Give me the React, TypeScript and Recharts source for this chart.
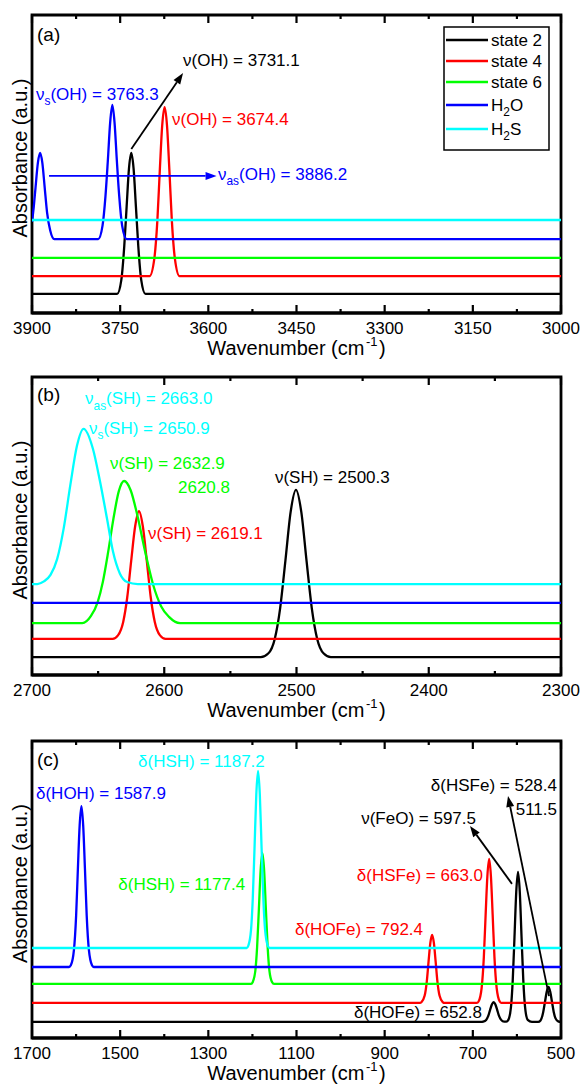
import React from "react";
import { LineChart, Line, XAxis, YAxis, ReferenceDot, ReferenceLine, ReferenceArea } from "recharts";

const FONT = "Arial, 'Liberation Sans', sans-serif";

// legend / series order
const seriesNames = ["state 2", "state 4", "state 6", "H_{2}O", "H_{2}S"];
const seriesColors = ["#000000", "#ff0000", "#00ff00", "#0000ff", "#00ffff"];

// ---- panel (a): 3900-3000 cm-1, [wavenumber, absorbance]
const aTicks = [3900, 3750, 3600, 3450, 3300, 3150, 3000];
const aMinor = [3825, 3675, 3525, 3375, 3225, 3075];
const aState2 = [[3900, 6.4], [3755.1, 6.4], [3748, 11.1], [3743, 22.5], [3739, 35.7], [3735, 48.5], [3731.1, 53.7], [3727.2, 48.5], [3723.2, 35.7], [3719.2, 22.5], [3714.2, 11.1], [3707, 6.4], [3000, 6.4]];
const aState4 = [[3900, 12.4], [3700, 12.4], [3692, 18.1], [3686.7, 31.1], [3682.5, 48.1], [3678.5, 62.9], [3674.4, 69.1], [3670.3, 62.9], [3666.3, 48.1], [3662.1, 31.1], [3656.8, 18.1], [3649, 12.4], [3000, 12.4]];
const aState6 = [[3900, 18.5], [3000, 18.5]];
const aH2O = [[3900, 30.6], [3897, 35.6], [3894, 42.1], [3890, 50.4], [3886.2, 53.7], [3882.4, 50.4], [3878.4, 42.1], [3874.4, 33.8], [3869, 27.7], [3862, 24.8], [3787.3, 24.8], [3780, 29.3], [3775, 39.2], [3771, 51], [3767, 64], [3763.3, 69.8], [3759.6, 64], [3755.6, 51], [3751.6, 39.2], [3746.6, 29.3], [3739, 24.8], [3000, 24.8]];
const aH2S = [[3900, 31.2], [3000, 31.2]];

// ---- panel (b): 2700-2300 cm-1
const bTicks = [2700, 2600, 2500, 2400, 2300];
const bMinor = [2650, 2550, 2450, 2350];
const bState2 = [[2700, 6], [2527, 6], [2521.4, 7.2], [2516.4, 12.2], [2512.4, 22.3], [2508.4, 38.3], [2504.4, 54.8], [2500.4, 62.1], [2496.4, 54.8], [2492.4, 38.3], [2488.4, 22.3], [2484.4, 12.2], [2479.4, 7.2], [2474, 6], [2300, 6]];
const bState4 = [[2700, 12.1], [2639, 12.1], [2635, 13.3], [2631, 17.9], [2628, 26], [2625, 38.3], [2622, 49.9], [2619.1, 55], [2616.2, 49.9], [2613.2, 38.3], [2610.2, 26], [2607.2, 17.9], [2603.2, 13.3], [2599, 12.1], [2300, 12.1]];
const bState6 = [[2700, 17.4], [2662, 17.4], [2655.4, 19.8], [2650.4, 24.4], [2646.4, 31.3], [2642.4, 41.3], [2638.4, 52.5], [2634.4, 61.6], [2630.4, 65.1], [2625.4, 62], [2620.4, 53.7], [2614.4, 41.3], [2608.4, 30.3], [2602.4, 23.1], [2596.4, 19.5], [2588, 17.4], [2300, 17.4]];
const bH2O = [[2700, 24.2], [2300, 24.2]];
const bH2S = [[2700, 30.5], [2696, 30.5], [2691, 31.4], [2686, 33.6], [2681, 38.9], [2676, 49.3], [2671, 63.8], [2666, 76.9], [2661, 82.6], [2654, 76], [2648.6, 65], [2643.3, 52.5], [2638.8, 41.5], [2633.5, 34], [2628, 31.2], [2620, 30.5], [2300, 30.5]];

// ---- panel (c): 1700-500 cm-1
const cTicks = [1700, 1500, 1300, 1100, 900, 700, 500];
const cMinor = [1600, 1400, 1200, 1000, 800, 600];
const cState2 = [[1700, 5.4], [681, 5.4], [676.8, 5.5], [669.8, 6.1], [664.8, 7.5], [660.8, 9.5], [656.8, 11.3], [652.8, 12.1], [648.8, 11.3], [644.8, 9.5], [640.8, 7.5], [635.8, 6.1], [629, 5.5], [624, 5.5], [619.5, 6.1], [613.5, 10.4], [609.5, 19.4], [605.5, 34], [601.5, 49.2], [597.5, 55.9], [593.5, 49.2], [589.5, 34], [585.5, 19.4], [581.5, 10.4], [575.5, 6.1], [566, 5.4], [552, 5.4], [546.4, 5.9], [540.4, 8.7], [536.4, 12.1], [532.4, 15.6], [528.4, 17.2], [524.4, 15.6], [520.4, 12.1], [516.4, 8.7], [512.4, 6.6], [506.4, 5.6], [500, 5.4]];
const cState4 = [[1700, 11.8], [820, 11.8], [816.4, 12.1], [809.4, 14.2], [804.4, 19.1], [800.4, 25.8], [796.4, 32], [792.4, 34.7], [788.4, 32], [784.4, 25.8], [780.4, 19.1], [775.4, 14.2], [768.4, 12.1], [764, 11.8], [691, 11.8], [687, 12.3], [680, 16.9], [675, 27.3], [671, 41.4], [667, 54.5], [663, 60.3], [659, 54.5], [655, 41.4], [651, 27.3], [646, 16.9], [639, 12.3], [635, 11.8], [500, 11.8]];
const cState6 = [[1700, 18.2], [1203, 18.2], [1199.4, 18.8], [1193.4, 22.6], [1189.4, 30.5], [1185.4, 43.2], [1181.4, 56.4], [1177.4, 62.3], [1173.4, 56.4], [1169.4, 43.2], [1165.4, 30.5], [1161.4, 22.6], [1155.4, 18.8], [1151, 18.2], [500, 18.2]];
const cH2O = [[1700, 23.9], [1616, 23.9], [1611.9, 24.5], [1604.9, 29.6], [1599.9, 41.2], [1595.9, 57], [1591.9, 71.6], [1587.9, 78.1], [1583.9, 71.6], [1579.9, 57], [1575.9, 41.2], [1570.9, 29.6], [1563.9, 24.5], [1560, 23.9], [500, 23.9]];
const cH2S = [[1700, 30.3], [1213, 30.3], [1209.2, 31.1], [1203.2, 36.3], [1199.2, 46.9], [1195.2, 64], [1191.2, 82], [1187.2, 89.9], [1183.2, 82], [1179.2, 64], [1175.2, 46.9], [1171.2, 36.3], [1165.2, 31.1], [1161, 30.3], [500, 30.3]];

// peak labels: [wavenumber, absorbance, text, series index, anchor]
const aNotes = [
  [3643, 82.8, "ν(OH) = 3731.1", 0, "start"],
  [3893.2, 71.5, "ν_{s}(OH) = 3763.3", 3, "start"],
  [3661.8, 63, "ν(OH) = 3674.4", 1, "start"],
  [3583.6, 44.5, "ν_{as}(OH) = 3886.2", 3, "start"],
];
const aArrows = [
  [3731, 55, 3643, 80.5, 0],
  [3871, 46, 3586, 46, 3],
];
const bNotes = [
  [2659.9, 90.8, "ν_{as}(SH) = 2663.0", 4, "start"],
  [2656.9, 81, "ν_{s}(SH) = 2650.9", 4, "start"],
  [2641, 69, "ν(SH) = 2632.9", 2, "start"],
  [2589.6, 61.1, "2620.8", 2, "start"],
  [2612.3, 45.8, "ν(SH) = 2619.1", 1, "start"],
  [2516.3, 64.3, "ν(SH) = 2500.3", 0, "start"],
];
const cNotes = [
  [1459.5, 91.4, "δ(HSH) = 1187.2", 4, "start"],
  [1690.9, 80.6, "δ(HOH) = 1587.9", 3, "start"],
  [1504.2, 50, "δ(HSH) = 1177.4", 2, "start"],
  [1103.4, 34.8, "δ(HOFe) = 792.4", 1, "start"],
  [676.9, 52.7, "δ(HSFe) = 663.0", 1, "end"],
  [692.8, 72.2, "ν(FeO) = 597.5", 0, "end"],
  [509.1, 83, "δ(HSFe) = 528.4", 0, "end"],
  [509.1, 75.1, "511.5", 0, "end"],
  [679.2, 6.6, "δ(HOFe) = 652.8", 0, "end"],
];
const cArrows = [
  [611.2, 51.9, 706.4, 71.4, 0],
  [527.2, 14.1, 620.2, 81.5, 0],
];

const toPoints = (arr: number[][]) => arr.map(([x, y]) => ({ x, y }));

// "ν_{as}(OH)" / "cm^{-1}" -> tspans
function Rich({ x, y, text, color, anchor = "start", size = 17 }: any) {
  const parts = text.split(/(_\{[^}]*\}|\^\{[^}]*\})/).filter((s: string) => s.length);
  let shift = 0;
  let prevSup = false;
  const spans = parts.map((p: string, i: number) => {
    let t = p, target = 0, fs = size, dx = 0;
    const sup = p.startsWith("^{");
    if (p.startsWith("_{")) { t = p.slice(2, -1); target = size * 0.3; fs = size * 0.7; }
    else if (sup) { t = p.slice(2, -1); target = -size * 0.45; fs = size * 0.65; dx = 1.5; }
    if (prevSup) dx = 1.5;
    prevSup = sup;
    const dy = target - shift;
    shift = target;
    return <tspan key={i} dx={dx} dy={dy} fontSize={fs}>{t}</tspan>;
  });
  return (
    <text x={x} y={y} fill={color} textAnchor={anchor} fontFamily={FONT} fontSize={size}>
      {spans}
    </text>
  );
}

const arrowShape = (color: string) => (p: any) => {
  const { x1, y1, x2, y2 } = p;
  const a = Math.atan2(y2 - y1, x2 - x1);
  const L = 11, W = 4;
  const bx = x2 - L * Math.cos(a), by = y2 - L * Math.sin(a);
  const pts = `${x2},${y2} ${bx + W * Math.sin(a)},${by - W * Math.cos(a)} ${bx - W * Math.sin(a)},${by + W * Math.cos(a)}`;
  return (
    <g>
      <line x1={x1} y1={y1} x2={bx} y2={by} stroke={color} strokeWidth={1.8} />
      <polygon points={pts} fill={color} />
    </g>
  );
};

const bottomTick = (majors: number[]) => (p: any) => {
  const v = p.payload.value;
  const major = majors.includes(v);
  return (
    <g>
      <line x1={p.x} x2={p.x} y1={p.y} y2={p.y - (major ? 8 : 4)} stroke="#000" strokeWidth={2.2} />
      {major && (
        <text x={p.x} y={p.y + 21} textAnchor="middle" fontSize={17} fontFamily={FONT} fill="#000">{v}</text>
      )}
    </g>
  );
};

const topTick = (majors: number[]) => (p: any) => {
  const major = majors.includes(p.payload.value);
  return <line x1={p.x} x2={p.x} y1={p.y} y2={p.y + (major ? 8 : 4)} stroke="#000" strokeWidth={2.2} />;
};

function Panel({ top, height, plotH, tag, domain, majors, minors, series, notes, arrows, children }: any) {
  const ticks = [...majors, ...minors].sort((a, b) => a - b);
  const frame = { stroke: "#000", strokeWidth: 2.8 };
  return (
    <div style={{ position: "absolute", left: 0, top, width: 581, height }}>
      <LineChart width={581} height={height} margin={{ top: 14, right: 20, bottom: 0, left: 31 }}>
        <XAxis dataKey="x" type="number" domain={domain} reversed allowDataOverflow ticks={ticks} interval={0}
          height={height - 15 - plotH} tickSize={0} tickMargin={0} tickLine={false}
          axisLine={frame} tick={bottomTick(majors)}
          label={(p: any) => {
            const vb = p.viewBox;
            return <Rich x={vb.x + vb.width / 2} y={vb.y + 42} text="Wavenumber (cm^{-1})" color="#000" anchor="middle" size={20} />;
          }} />
        <XAxis xAxisId="top" dataKey="x" type="number" domain={domain} reversed allowDataOverflow orientation="top"
          ticks={ticks} interval={0} height={1} tickSize={0} tickMargin={0} tickLine={false}
          axisLine={false} tick={topTick(majors)} />
        <YAxis type="number" domain={[0, 100]} width={1} tick={false} tickLine={false} axisLine={false}
          label={(p: any) => {
            const vb = p.viewBox;
            const cy = vb.y + vb.height / 2 - 6;
            return (
              <text x={20} y={cy} transform={`rotate(-90 20 ${cy})`}
                textAnchor="middle" dominantBaseline="central" fontFamily={FONT} fontSize={20} fill="#000">
                Absorbance (a.u.)
              </text>
            );
          }} />
        <ReferenceArea x1={domain[0]} x2={domain[1]} y1={0} y2={100} fill="none" fillOpacity={0}
          stroke="#000" strokeWidth={2.8} ifOverflow="visible" />
        {series.map((s: number[][], i: number) => (
          <Line key={i} data={toPoints(s)} dataKey="y" type="monotone" stroke={seriesColors[i]} strokeWidth={2.3}
            dot={false} activeDot={false} isAnimationActive={false} />
        ))}
        <ReferenceDot x={tag[0]} y={tag[1]} r={0}
          shape={(p: any) => <Rich x={p.cx} y={p.cy} text={tag[2]} color="#000" size={19} />} />
        {notes.map((n: any[], i: number) => (
          <ReferenceDot key={"n" + i} x={n[0]} y={n[1]} r={0}
            shape={(p: any) => <Rich x={p.cx} y={p.cy} text={n[2]} color={seriesColors[n[3]]} anchor={n[4]} />} />
        ))}
        {arrows.map((a: number[], i: number) => (
          <ReferenceLine key={"a" + i} segment={[{ x: a[0], y: a[1] }, { x: a[2], y: a[3] }]}
            shape={arrowShape(seriesColors[a[4]])} />
        ))}
      </LineChart>
      {children}
    </div>
  );
}

function LegendBox() {
  const rows = [14, 35, 56, 79, 103];
  return (
    <svg width={108} height={126} style={{ position: "absolute", left: 443, top: 26 }}>
      <rect x={1} y={1} width={105} height={123} fill="#fff" stroke="#000" strokeWidth={1.5} />
      {seriesNames.map((name, i) => (
        <g key={i}>
          <line x1={3} x2={45} y1={rows[i]} y2={rows[i]} stroke={seriesColors[i]} strokeWidth={2.3} />
          <Rich x={48} y={rows[i] + 6} text={name} color="#000" size={17} />
        </g>
      ))}
    </svg>
  );
}

export default function App() {
  return (
    <div style={{ position: "absolute", left: 0, top: 0, width: 581, height: 1086, background: "#fff" }}>
      <Panel top={0} height={362} plotH={298} tag={[3891.5, 91.3, "(a)"]} domain={[3000, 3900]} majors={aTicks} minors={aMinor}
        series={[aState2, aState4, aState6, aH2O, aH2S]} notes={aNotes} arrows={aArrows}>
        <LegendBox />
      </Panel>
      <Panel top={362} height={362} plotH={298} tag={[2696.2, 91.9, "(b)"]} domain={[2300, 2700]} majors={bTicks} minors={bMinor}
        series={[bState2, bState4, bState6, bH2O, bH2S]} notes={bNotes} arrows={[]} />
      <Panel top={726} height={360} plotH={297} tag={[1688.7, 91.6, "(c)"]} domain={[500, 1700]} majors={cTicks} minors={cMinor}
        series={[cState2, cState4, cState6, cH2O, cH2S]} notes={cNotes} arrows={cArrows} />
    </div>
  );
}
